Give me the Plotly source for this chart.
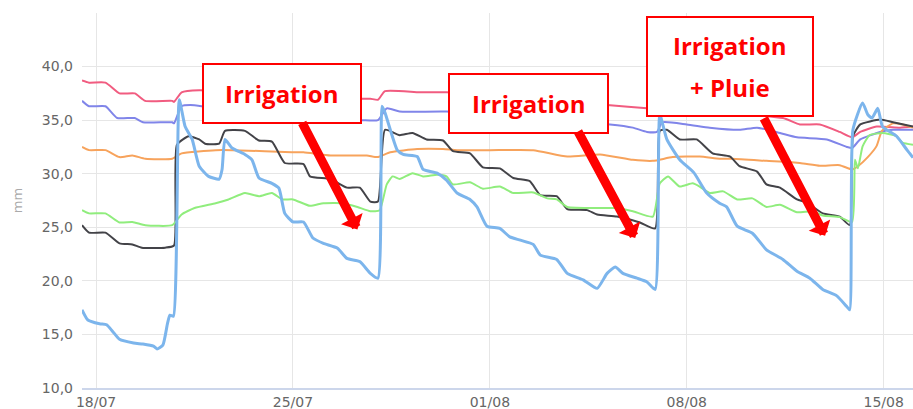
import plotly.graph_objects as go

YEAR = "2022-"

# ---- data ----
pink_t = ["07-17 12:00", "07-17 18:00", "07-18 08:00", "07-18 20:00", "07-19 09:00", "07-19 18:00",
          "07-20 17:00", "07-20 18:30", "07-21 01:00", "07-21 16:00", "07-22 12:00", "07-24 12:00",
          "07-26 12:00", "07-27 11:00", "07-27 18:00", "07-28 00:30", "07-28 06:30", "07-29 12:00",
          "07-30 11:00", "08-01 12:00", "08-03 12:00", "08-05 06:30", "08-06 14:00", "08-06 22:30",
          "08-07 03:00", "08-09 00:00", "08-11 10:00", "08-12 00:30", "08-12 17:30", "08-13 10:30",
          "08-13 21:00", "08-14 04:00", "08-14 18:00", "08-15 14:00", "08-16 01:00"]
pink_v = [38.7, 38.5, 38.5, 37.5, 37.5, 36.8,
          36.8, 36.7, 37.6, 37.8, 37.7, 37.3,
          37.1, 37.0, 37.0, 36.9, 37.7, 37.6,
          37.6, 37.2, 36.8, 36.4, 36.1, 36.0,
          36.4, 35.8, 35.2, 34.6, 34.6, 33.9,
          33.4, 33.9, 34.4, 34.3, 34.4]

purple_t = ["07-17 12:00", "07-17 18:00", "07-18 08:00", "07-18 18:00", "07-19 09:00", "07-19 16:00",
            "07-20 17:00", "07-20 18:30", "07-21 01:00", "07-21 12:00", "07-22 12:00", "07-24 12:00",
            "07-26 12:00", "07-27 11:00", "07-28 00:30", "07-28 08:00", "07-28 19:00", "07-30 11:00",
            "08-01 12:00", "08-03 12:00", "08-05 06:30", "08-06 02:00", "08-06 14:00", "08-06 22:30",
            "08-07 03:00", "08-08 00:00", "08-08 19:30", "08-09 21:00", "08-10 12:00", "08-11 07:30",
            "08-11 22:00", "08-12 23:30", "08-13 16:30", "08-13 21:00", "08-14 04:00", "08-14 21:00",
            "08-15 08:00", "08-16 01:00"]
purple_v = [36.8, 36.3, 36.3, 35.2, 35.2, 34.8,
            34.8, 34.7, 36.3, 36.4, 36.0, 35.5,
            35.1, 35.0, 35.0, 36.1, 35.8, 35.8,
            35.3, 34.9, 34.6, 34.3, 33.9, 33.9,
            34.8, 34.6, 34.3, 34.1, 34.3, 33.8,
            33.4, 33.2, 32.5, 32.4, 33.2, 33.9,
            34.1, 34.1]

orange_t = ["07-17 12:00", "07-17 18:00", "07-18 08:00", "07-18 20:00", "07-19 07:00", "07-19 18:00",
            "07-20 17:00", "07-21 01:00", "07-22 06:00", "07-22 20:00", "07-24 00:00", "07-24 23:00",
            "07-25 09:00", "07-26 08:00", "07-27 15:00", "07-28 00:00", "07-28 11:00", "07-29 10:00",
            "07-30 08:00", "07-30 20:00", "08-01 00:00", "08-02 13:00", "08-03 18:00", "08-04 22:00",
            "08-06 02:00", "08-06 19:00", "08-07 12:00", "08-08 11:00", "08-09 04:00", "08-09 15:00",
            "08-10 20:00", "08-12 00:30", "08-12 17:30", "08-13 10:30", "08-13 21:00", "08-14 02:00",
            "08-14 10:00", "08-14 18:00", "08-14 22:30", "08-15 08:00", "08-15 16:00", "08-16 01:00"]
orange_v = [32.5, 32.2, 32.2, 31.55, 31.7, 31.4,
            31.4, 31.9, 32.2, 32.2, 32.1, 32.0,
            32.0, 31.7, 31.7, 31.55, 32.0, 32.3,
            32.3, 32.2, 32.2, 32.2, 31.6, 31.8,
            31.3, 31.2, 31.55, 31.6, 31.4, 31.4,
            31.2, 31.0, 30.75, 30.8, 30.4, 30.7,
            31.5, 32.6, 34.0, 34.7, 34.6, 34.3]

black_t = ["07-17 12:00", "07-17 18:00", "07-18 08:00", "07-18 20:00", "07-19 07:00", "07-19 15:00",
           "07-20 11:00", "07-20 18:30", "07-20 21:00", "07-21 07:00", "07-21 16:00", "07-21 21:00",
           "07-22 09:00", "07-22 14:00", "07-23 07:00", "07-23 19:00", "07-24 06:00", "07-24 17:00",
           "07-25 09:00", "07-25 14:30", "07-26 08:00", "07-26 22:00", "07-27 09:00", "07-27 18:00",
           "07-28 00:30", "07-28 06:30", "07-28 19:00", "07-29 06:00", "07-29 18:00", "07-30 08:00",
           "07-30 16:30", "07-31 07:00", "07-31 18:00", "08-01 08:30", "08-01 20:00", "08-02 10:00",
           "08-02 19:00", "08-03 09:00", "08-03 18:00", "08-04 11:00", "08-04 19:30", "08-05 12:30",
           "08-06 08:00", "08-06 21:00", "08-07 01:00", "08-07 07:00", "08-07 18:00", "08-08 08:30",
           "08-08 22:00", "08-09 13:00", "08-09 21:00", "08-10 12:00", "08-10 20:00", "08-11 07:30",
           "08-11 22:00", "08-12 06:30", "08-12 20:00", "08-13 10:30", "08-13 19:00", "08-13 21:45",
           "08-14 04:00", "08-14 21:00", "08-15 08:00", "08-16 01:00"]
black_v = [25.2, 24.5, 24.5, 23.5, 23.4, 23.1,
           23.1, 23.3, 32.7, 33.5, 33.2, 32.8,
           32.8, 34.0, 34.0, 33.1, 33.0, 31.0,
           30.9, 29.75, 29.5, 28.7, 28.7, 27.4,
           27.4, 34.1, 33.6, 33.8, 33.2, 33.1,
           32.1, 31.9, 30.6, 30.5, 29.6, 29.3,
           28.0, 27.9, 26.7, 26.6, 26.2, 26.0,
           25.45, 24.9, 34.0, 34.1, 33.2, 33.2,
           31.9, 31.6, 30.7, 30.2, 29.0, 28.7,
           27.6, 27.3, 26.3, 26.0, 25.2, 33.5,
           34.6, 35.05, 34.8, 34.4]

green_t = ["07-17 12:00", "07-17 18:00", "07-18 08:00", "07-18 20:00", "07-19 07:00", "07-19 18:00",
           "07-20 17:00", "07-21 01:00", "07-21 12:00", "07-22 06:00", "07-22 17:00", "07-23 07:00",
           "07-23 19:00", "07-24 06:00", "07-24 15:00", "07-25 00:00", "07-25 14:30", "07-26 02:00",
           "07-26 19:00", "07-27 07:00", "07-27 18:00", "07-28 02:00", "07-28 08:00", "07-28 13:00",
           "07-28 19:00", "07-29 06:00", "07-29 15:00", "07-30 03:00", "07-30 11:00", "07-30 16:30",
           "07-31 07:00", "07-31 18:00", "08-01 08:30", "08-01 20:00", "08-02 13:00", "08-03 01:00",
           "08-03 09:00", "08-03 18:00", "08-04 22:00", "08-05 12:30", "08-06 02:00", "08-06 19:00",
           "08-07 01:00", "08-07 08:00", "08-07 18:00", "08-08 05:00", "08-08 11:00", "08-08 19:30",
           "08-09 07:00", "08-09 19:00", "08-10 08:00", "08-10 20:00", "08-11 07:30", "08-11 22:00",
           "08-12 11:30", "08-12 20:00", "08-13 10:30", "08-13 21:00", "08-13 23:30", "08-14 02:00",
           "08-14 06:00", "08-14 12:00", "08-14 23:00", "08-15 11:00", "08-15 16:00", "08-16 01:00"]
green_v = [26.6, 26.3, 26.3, 25.45, 25.5, 25.2,
           25.2, 26.2, 26.8, 27.25, 27.6, 28.2,
           27.9, 28.2, 27.6, 27.6, 27.0, 27.25,
           27.25, 26.9, 26.5, 26.6, 29.0, 29.75,
           29.5, 30.05, 29.75, 29.9, 29.75, 29.0,
           29.2, 28.6, 28.8, 28.2, 28.25, 27.7,
           27.6, 26.9, 26.8, 26.8, 26.5, 26.0,
           29.1, 29.75, 28.8, 29.1, 28.8, 28.2,
           28.35, 27.6, 27.7, 26.9, 27.1, 26.4,
           26.5, 26.1, 25.95, 25.5, 31.3, 30.5,
           32.55, 33.6, 33.8, 33.5, 32.9, 32.7]

blue_t = ["07-17 12:00", "07-17 17:00", "07-18 03:00", "07-18 09:00", "07-18 14:00", "07-18 20:00",
          "07-19 08:00", "07-19 16:00", "07-20 01:00", "07-20 04:00", "07-20 09:00", "07-20 13:00",
          "07-20 15:00", "07-20 18:00", "07-20 23:00", "07-21 04:00", "07-21 10:00", "07-21 16:00",
          "07-22 00:00", "07-22 09:00", "07-22 11:30", "07-22 14:00", "07-22 20:00", "07-23 07:00",
          "07-23 13:00", "07-23 19:00", "07-24 06:00", "07-24 12:00", "07-24 17:00", "07-25 00:00",
          "07-25 09:00", "07-25 17:00", "07-26 02:00", "07-26 14:00", "07-26 22:00", "07-27 09:00",
          "07-27 18:00", "07-28 00:30", "07-28 04:00", "07-28 06:30", "07-28 17:00", "07-28 22:00",
          "07-29 10:00", "07-29 15:00", "07-30 03:00", "07-30 11:00", "07-30 20:00", "07-31 07:00",
          "07-31 13:00", "07-31 21:30", "08-01 08:30", "08-01 17:00", "08-02 02:00", "08-02 13:00",
          "08-02 19:00", "08-03 09:00", "08-03 18:00", "08-04 07:30", "08-04 19:30", "08-05 04:00",
          "08-05 11:00", "08-05 17:30", "08-06 05:30", "08-06 14:00", "08-06 21:00", "08-07 01:00",
          "08-07 07:00", "08-07 18:00", "08-08 06:00", "08-08 17:00", "08-09 04:00", "08-09 10:00",
          "08-09 19:00", "08-10 08:00", "08-10 20:00", "08-11 10:00", "08-11 22:00", "08-12 09:00",
          "08-12 20:00", "08-13 08:00", "08-13 16:30", "08-13 19:00", "08-13 21:45", "08-14 06:00",
          "08-14 10:30", "08-14 14:00", "08-14 19:00", "08-14 23:00", "08-15 11:00", "08-15 20:00",
          "08-16 01:00"]
blue_v = [17.3, 16.35, 16.0, 15.9, 15.3, 14.55,
          14.2, 14.1, 13.9, 13.65, 14.0, 16.05,
          16.8, 16.7, 36.9, 34.4, 33.2, 30.7,
          29.75, 29.5, 30.4, 33.2, 32.4, 31.8,
          31.3, 29.6, 29.1, 28.65, 26.3, 25.5,
          25.5, 24.0, 23.5, 23.05, 22.1, 21.8,
          20.7, 20.25, 36.3, 35.7, 32.2, 31.8,
          31.6, 30.4, 30.05, 29.4, 28.2, 27.6,
          26.9, 25.1, 24.9, 24.1, 23.8, 23.4,
          22.4, 22.0, 20.7, 20.1, 19.3, 20.7,
          21.3, 20.7, 20.25, 19.9, 19.2, 35.5,
          33.2, 31.3, 30.1, 28.2, 27.25, 26.9,
          25.1, 24.45, 22.9, 22.0, 20.9, 20.25,
          19.2, 18.6, 17.6, 17.3, 34.1, 36.6,
          35.5, 35.2, 36.1, 34.4, 33.5, 32.2,
          31.5]

y_tick_vals = [10, 15, 20, 25, 30, 35, 40, 45]
y_tick_labels = ["10,0", "15,0", "20,0", "25,0", "30,0", "35,0", "40,0", ""]

x_range = ["2022-07-17 12:00", "2022-08-16 01:00"]
y_range = [10, 45]

# annotation boxes: (text lines, box in pixels l, t, r, b)
boxes = [
    (["Irrigation"], (203, 64, 361, 123)),
    (["Irrigation"], (449, 74, 608, 133)),
    (["Irrigation", "+ Pluie"], (647, 17, 813, 116)),
]
# arrows: tip (date, mm), tail offset in pixels
arrows = [
    ("2022-07-27 07:00", 24.8, -56, -108),
    ("2022-08-06 04:00", 24.0, -58, -108),
    ("2022-08-12 22:00", 24.2, -62, -119),
]

# ---- figure ----
W, H = 913, 409
ML, MR, MT, MB = 82, 0, 13, 21
PW, PH = W - ML - MR, H - MT - MB


def px2paper(px, py):
    return (px - ML) / PW, (H - MB - py) / PH


series = [
    (pink_t, pink_v, "#f15c80", 2),
    (purple_t, purple_v, "#8085e9", 2),
    (orange_t, orange_v, "#f7a35c", 2),
    (black_t, black_v, "#434348", 2),
    (green_t, green_v, "#90ed7d", 2),
    (blue_t, blue_v, "#7cb5ec", 3),
]

fig = go.Figure()
for t, v, c, w in series:
    fig.add_trace(go.Scatter(x=[YEAR + s for s in t], y=v, mode="lines",
                             line=dict(color=c, width=w, shape="spline", smoothing=0.5),
                             showlegend=False, hoverinfo="skip"))

shapes = []
annotations = []
for lines, (l, t, r, b) in boxes:
    x0, y1 = px2paper(l, t)
    x1, y0 = px2paper(r, b)
    shapes.append(dict(type="rect", xref="paper", yref="paper", x0=x0, x1=x1, y0=y0, y1=y1,
                       fillcolor="white", line=dict(color="#ff0000", width=2), layer="above"))
    n = len(lines)
    cx = (l + r) / 2
    fracs = [0.5] if n == 1 else [0.29, 0.71]
    for txt, f in zip(lines, fracs):
        cy = t + (b - t) * f
        ax_, ay_ = px2paper(cx, cy)
        annotations.append(dict(x=ax_, y=ay_, xref="paper", yref="paper", text=txt,
                                showarrow=False, xanchor="center", yanchor="middle",
                                font=dict(family="Open Sans", size=24, color="#ff0000",
                                          weight="bold")))

for tx, ty, dx, dy in arrows:
    annotations.append(dict(x=tx, y=ty, xref="x", yref="y", ax=dx, ay=dy, text="",
                            showarrow=True, arrowhead=1, arrowsize=0.45, arrowwidth=9,
                            arrowcolor="#ff0000", standoff=0))

fig.update_layout(
    width=W, height=H,
    margin=dict(l=ML, r=MR, t=MT, b=MB, pad=0, autoexpand=False),
    paper_bgcolor="white", plot_bgcolor="white",
    separators=", ",
    font=dict(family="DejaVu Sans", size=14, color="#666666"),
    shapes=shapes, annotations=annotations,
    xaxis=dict(range=x_range, type="date", tickformat="%d/%m", dtick=7 * 86400000,
               tick0="2022-07-18", showgrid=True, gridcolor="#e6e6e6", gridwidth=1,
               showline=True, linecolor="#ccd6eb", linewidth=2, ticks="",
               zeroline=False, tickfont=dict(size=14, color="#666666"), ticklabelstandoff=0),
    yaxis=dict(range=y_range, tickvals=y_tick_vals, ticktext=y_tick_labels,
               showgrid=True, gridcolor="#e6e6e6", gridwidth=1, zeroline=False,
               showline=False, ticks="", tickfont=dict(size=14, color="#666666"),
               ticklabelstandoff=8,
               title=dict(text="mm", font=dict(size=13, color="#aaaaaa"), standoff=16)),
)

fig.write_html("out.html", config={"displayModeBar": False},
               post_script="document.body.style.margin='0';document.body.style.overflow='hidden';")
